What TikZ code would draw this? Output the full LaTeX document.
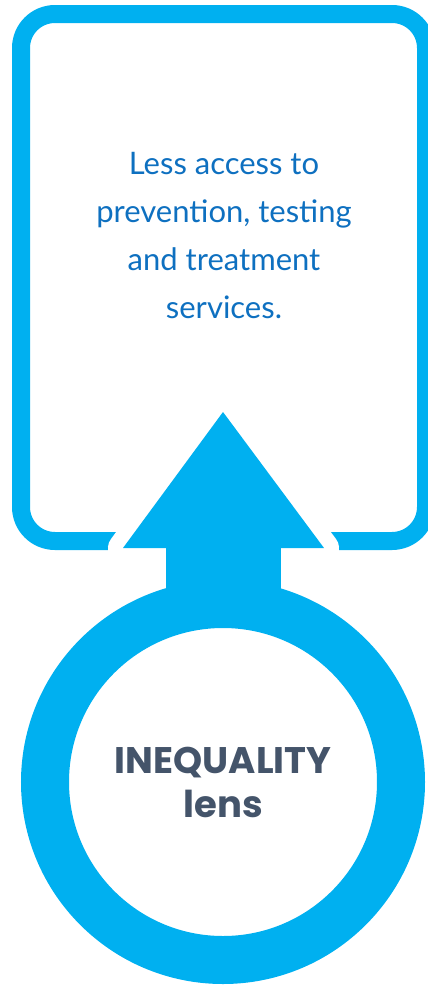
\documentclass[tikz,border=0pt]{standalone}
\usepackage{fontspec}
\newfontfamily\latofont{Lato}
\newfontfamily\poppfont{Poppins}
\definecolor{ringblue}{HTML}{00B0F0}
\definecolor{textblue}{HTML}{0E70C0}
\definecolor{slate}{HTML}{44546A}
\tikzset{
  framebox/.style={draw=ringblue, line width=18pt, rounded corners=34pt},
  arrowfill/.style={fill=ringblue, draw=none},
  arrowhalo/.style={draw=white, line width=30pt, line join=round, fill=white},
  ring/.style={draw=ringblue, line width=48pt, fill=white},
  toptext/.style={font=\latofont\fontsize{31}{48}\selectfont, text=textblue, align=center, inner sep=0pt},
  lenstext/.style={font=\poppfont\bfseries\fontsize{37}{44}\selectfont, text=slate, align=center, inner sep=0pt}
}
\begin{document}
\begin{tikzpicture}[x=1pt,y=-1pt]
\useasboundingbox (0,0) rectangle (428,985);
\begin{scope}
\clip (0,0) rectangle (428,985);
\draw[framebox] (21,14) rectangle (426,541);
\end{scope}
% arrow
\coordinate (tl) at (123,548);
\coordinate (tp) at (223,412);
\coordinate (tr) at (324,548);
\draw[arrowhalo] (tl) -- (tp) -- (tr) -- cycle;
\fill[arrowfill] (166,540) rectangle (281,612);
\fill[arrowfill] (tl) -- (tp) -- (tr) -- cycle;
% ring
\node[ring, circle, minimum size=356pt, inner sep=0pt] (lens) at (223,782) {};
\node[toptext] (access) at (224,236) {Less access to\\prevention, testing\\and treatment\\services.};
\node[lenstext] (lenslabel) at (lens.center) {INEQUALITY\\lens};
\end{tikzpicture}
\end{document}
